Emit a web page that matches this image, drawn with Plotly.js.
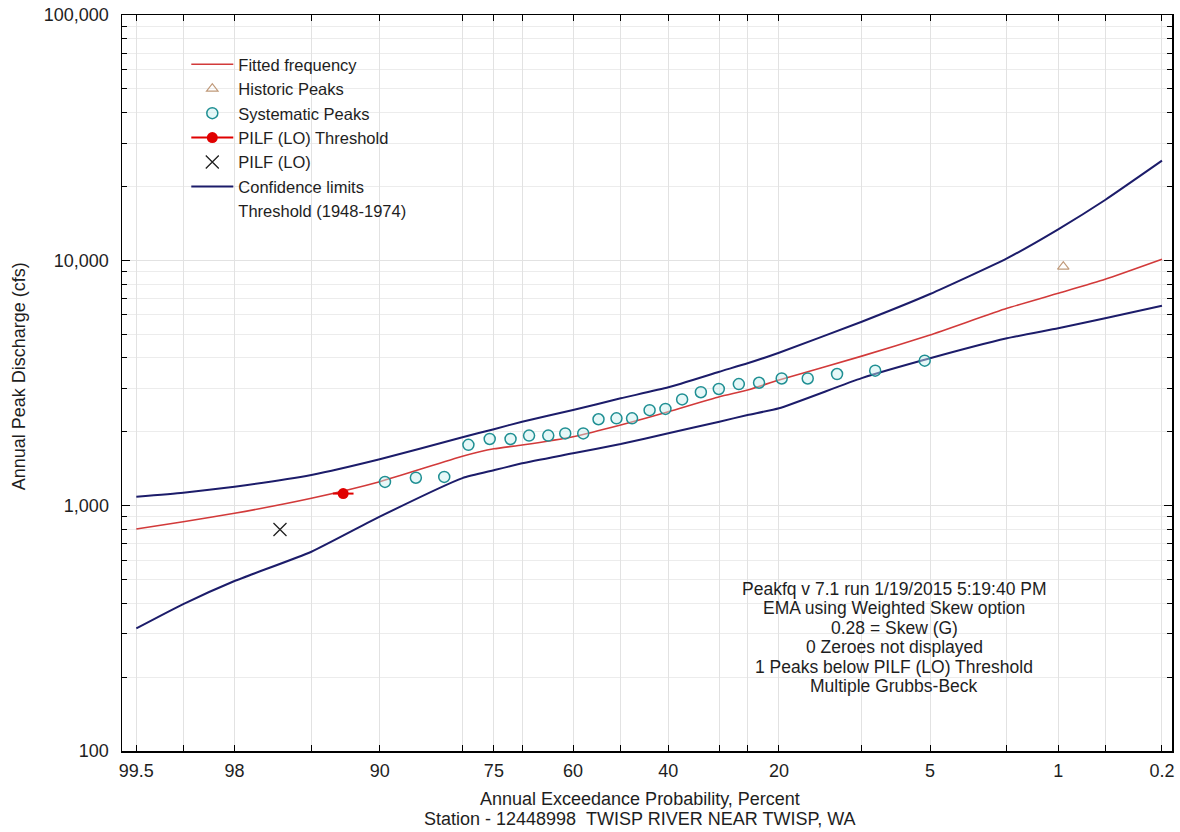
<!DOCTYPE html>
<html>
<head>
<meta charset="utf-8">
<script src="https://cdn.plot.ly/plotly-3.0.1.min.js"></script>
<style>html,body{margin:0;padding:0;background:#fff;}#chart{width:1180px;height:832px;}</style>
</head>
<body>
<div id="chart"></div>
<script>
// ---- Data (annual exceedance probability in percent, discharge in cfs) ----
const curveProb = [99.5, 99, 98, 95, 90, 80, 75, 70, 60, 50, 40, 30, 25, 20, 10, 5, 2, 1, 0.5, 0.2];
const fittedQ   = [803, 860, 931, 1072, 1252, 1590, 1705, 1767, 1910, 2132, 2415, 2781, 2961, 3253, 4070, 4962, 6373, 7339, 8367, 10100];
const upperQ    = [1088, 1129, 1195, 1334, 1545, 1900, 2050, 2199, 2454, 2739, 3037, 3516, 3804, 4203, 5622, 7292, 10190, 13380, 17620, 25480];
const lowerQ    = [316, 397, 493, 649, 902, 1295, 1395, 1488, 1634, 1784, 1972, 2199, 2342, 2494, 3310, 3988, 4810, 5284, 5803, 6533];

const systematicProb = [89.5, 86.2, 82.6, 79.1, 75.7, 72.1, 68.7, 65.0, 61.6, 57.9, 54.7, 50.9, 47.6, 43.9, 40.6, 37.2, 33.5, 30.1, 26.5, 23.1, 19.6, 16.0, 12.5, 8.8, 5.3];
const systematicQ    = [1250, 1300, 1310, 1770, 1870, 1870, 1930, 1930, 1970, 1970, 2250, 2270, 2270, 2450, 2480, 2710, 2900, 2990, 3130, 3170, 3300, 3300, 3440, 3550, 3900];

const historicProb = [0.93];
const historicQ    = [9420];
const pilfThresholdProb = [93.0];
const pilfThresholdQ    = [1120];
const pilfProb = [96.5];
const pilfQ    = [800];

const gridProb   = [99.5, 99, 98, 95, 90, 80, 75, 70, 60, 50, 40, 30, 25, 20, 10, 5, 2, 1, 0.5, 0.2];
const labelProb  = [99.5, 98, 90, 75, 60, 40, 20, 5, 1, 0.2];
const yTickVals  = [100, 1000, 10000, 100000];
const yTickText  = ["100", "1,000", "10,000", "100,000"];

const noteLines = [
  "Peakfq v 7.1 run 1/19/2015 5:19:40 PM",
  "EMA using Weighted Skew option",
  "0.28 = Skew (G)",
  "0 Zeroes not displayed",
  "1 Peaks below PILF (LO) Threshold",
  "Multiple Grubbs-Beck"
];
const xTitleLines = ["Annual Exceedance Probability, Percent",
                     "Station - 12448998\u00a0\u00a0TWISP RIVER NEAR TWISP, WA"];
const yTitle = "Annual Peak Discharge (cfs)";

// ---- Normal-probability scale (inverse standard normal CDF, Acklam) ----
function normInv(p){
  const a=[-3.969683028665376e+01,2.209460984245205e+02,-2.759285104469687e+02,1.383577518672690e+02,-3.066479806614716e+01,2.506628277459239e+00];
  const b=[-5.447609879822406e+01,1.615858368580409e+02,-1.556989798598866e+02,6.680131188771972e+01,-1.328068155288572e+01];
  const c=[-7.784894002430293e-03,-3.223964580411365e-01,-2.400758277161838e+00,-2.549732539343734e+00,4.374664141464968e+00,2.938163982698783e+00];
  const d=[7.784695709041462e-03,3.224671290700398e-01,2.445134137142996e+00,3.754408661907416e+00];
  const pl=0.02425, ph=1-pl; let q,r;
  if(p<pl){q=Math.sqrt(-2*Math.log(p));return (((((c[0]*q+c[1])*q+c[2])*q+c[3])*q+c[4])*q+c[5])/((((d[0]*q+d[1])*q+d[2])*q+d[3])*q+1);}
  if(p<=ph){q=p-0.5;r=q*q;return (((((a[0]*r+a[1])*r+a[2])*r+a[3])*r+a[4])*r+a[5])*q/(((((b[0]*r+b[1])*r+b[2])*r+b[3])*r+b[4])*r+1);}
  q=Math.sqrt(-2*Math.log(1-p));return -(((((c[0]*q+c[1])*q+c[2])*q+c[3])*q+c[4])*q+c[5])/((((d[0]*q+d[1])*q+d[2])*q+d[3])*q+1);
}
const probX = p => normInv(1 - p/100);

const FONT = "Liberation Sans, Arial, sans-serif";
const TXT = "#1e1e1e";
const NAVY = "#1c1c6a";
const RED = "#d23a3a";

const minorVals = [];
[100, 1000, 10000].forEach(dec => { for (let k = 2; k <= 9; k++) minorVals.push(k*dec); });

const traces = [
  {name:"Fitted frequency", x:curveProb.map(probX), y:fittedQ, mode:"lines",
   line:{color:RED, width:1.6, shape:"spline", smoothing:0.5}, legendrank:1},
  {name:"Confidence limits", x:curveProb.map(probX), y:upperQ, mode:"lines",
   line:{color:NAVY, width:2, shape:"spline", smoothing:0.5}, legendrank:6},
  {name:"Confidence limits", x:curveProb.map(probX), y:lowerQ, mode:"lines", showlegend:false,
   line:{color:NAVY, width:2, shape:"spline", smoothing:0.5}, legendrank:6},
  {name:"Historic Peaks", x:historicProb.map(probX), y:historicQ, mode:"markers",
   marker:{symbol:"triangle-up-open", size:10, color:"#c09a7a", line:{width:1.2}}, legendrank:2},
  {name:"Systematic Peaks", x:systematicProb.map(probX), y:systematicQ, mode:"markers",
   marker:{symbol:"circle", size:11, color:"rgba(200,240,240,0.45)", line:{color:"#1f8f93", width:1.5}}, legendrank:3},
  {name:"PILF (LO) Threshold", x:pilfThresholdProb.map(probX), y:pilfThresholdQ, mode:"lines+markers",
   line:{color:"#e00000", width:2},
   marker:{symbol:"circle", size:11, color:"#e00000"},
   error_x:{type:"constant", value:0.055, width:0, thickness:2, color:"#e00000"}, legendrank:4},
  {name:"PILF (LO)", x:pilfProb.map(probX), y:pilfQ, mode:"markers",
   marker:{symbol:"x-thin-open", size:13, color:"#202020", line:{width:1.3, color:"#202020"}}, legendrank:5},
  {name:"Threshold (1948-1974)", x:[null], y:[null], mode:"lines",
   line:{color:"rgba(0,0,0,0)", width:0}, legendrank:7}
];

const annotations = [];
noteLines.forEach((t, i) => {
  annotations.push({text:t, xref:"paper", yref:"paper", x:0.7355, y:(751 - (589 + i*19.4))/736,
    xanchor:"center", yanchor:"middle", showarrow:false, font:{family:FONT, size:17.5, color:TXT}});
});
xTitleLines.forEach((t, i) => {
  annotations.push({text:t, xref:"paper", yref:"paper", x:(640-121.7)/1050, y:(751 - (799 + i*20))/736,
    xanchor:"center", yanchor:"middle", showarrow:false, font:{family:FONT, size:18, color:TXT}});
});
annotations.push({text:yTitle, xref:"paper", yref:"paper", x:(19-121.7)/1050, y:(751-376)/736,
  xanchor:"center", yanchor:"middle", textangle:-90, showarrow:false, font:{family:FONT, size:18, color:TXT}});

const layout = {
  width:1180, height:832,
  margin:{l:122, r:8, t:15, b:81},
  paper_bgcolor:"#ffffff", plot_bgcolor:"#ffffff",
  font:{family:FONT, size:18, color:TXT},
  showlegend:true,
  legend:{x:(186-121.7)/1050, y:(751-47)/736, xanchor:"left", yanchor:"top",
          bgcolor:"rgba(0,0,0,0)", borderwidth:0, itemwidth:42,
          font:{family:FONT, size:16.5, color:TXT}},
  xaxis:{type:"linear", range:[-2.652, 2.9315], tickmode:"array",
         tickvals:gridProb.map(probX),
         ticktext:gridProb.map(p => labelProb.includes(p) ? String(p) : ""),
         ticks:"inside", ticklen:6, tickcolor:"#000", mirror:"ticks",
         showline:true, linecolor:"#000", linewidth:1.5,
         showgrid:true, gridcolor:"#e2e2e2", gridwidth:1, zeroline:false,
         ticklabelstandoff:3, tickfont:{family:FONT, size:18, color:TXT}},
  yaxis:{type:"log", range:[2, 5], tickmode:"array", tickvals:yTickVals, ticktext:yTickText,
         ticks:"inside", ticklen:8, tickcolor:"#000", mirror:"ticks",
         showline:true, linecolor:"#000", linewidth:1.5,
         showgrid:true, gridcolor:"#e2e2e2", gridwidth:1, zeroline:false,
         ticklabelstandoff:8, tickfont:{family:FONT, size:18, color:TXT},
         minor:{tickmode:"array", tickvals:minorVals, ticks:"inside", ticklen:5, tickcolor:"#000",
                showgrid:true, gridcolor:"#ececec", gridwidth:1}},
  annotations:annotations
};

Plotly.newPlot("chart", traces, layout, {displayModeBar:false, staticPlot:true});
</script>
</body>
</html>
